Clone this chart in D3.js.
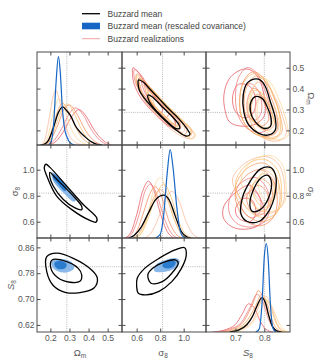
<!DOCTYPE html>
<html>
<head>
<meta charset="utf-8">
<script src="https://cdn.jsdelivr.net/npm/d3@7"></script>
<style>
  body { margin: 0; background: #fff; }
  svg { display: block; }
  text { font-family: "Liberation Sans", Arial, sans-serif; }
</style>
</head>
<body>
<svg id="chart" width="323" height="364"></svg>
<script>
// parameters: Omega_m, sigma_8, S_8
const domains = [[0.13, 0.575], [0.475, 1.19], [0.598, 0.889]];
const fiducial = [0.286, 0.82, 0.8];
const xTickVals = [[0.2, 0.3, 0.4, 0.5], [0.6, 0.8, 1.0], [0.7, 0.8]];
const yTickVals = [[0.2, 0.3, 0.4, 0.5], [0.6, 0.8, 1.0], [0.62, 0.70, 0.78, 0.86]];
const yTickFmt = [".1f", ".1f", ".2f"];

const realColors = ["#e3434b", "#ec6a6c", "#f07b4a", "#f5974e", "#f8b08e", "#f9b95a", "#fcd38c"];

// 1D posteriors (relative height)
const meanOm = [[0.15,0],[0.17,0.01],[0.19,0.05],[0.215,0.18],[0.24,0.34],[0.265,0.41],[0.285,0.37],[0.31,0.3],[0.33,0.21],[0.355,0.14],[0.38,0.09],[0.41,0.04],[0.44,0.01],[0.47,0]];
const blueOm = [[0.19,0],[0.205,0.04],[0.218,0.25],[0.23,0.68],[0.242,0.95],[0.252,0.78],[0.262,0.42],[0.274,0.18],[0.288,0.08],[0.305,0.02],[0.33,0]];
const realOm = [
  [[0.19,0],[0.23,0.04],[0.27,0.15],[0.31,0.3],[0.35,0.38],[0.39,0.3],[0.43,0.16],[0.47,0.06],[0.52,0]],
  [[0.18,0],[0.22,0.05],[0.26,0.18],[0.3,0.34],[0.33,0.4],[0.37,0.33],[0.41,0.18],[0.46,0.05],[0.5,0]],
  [[0.17,0],[0.2,0.05],[0.24,0.22],[0.27,0.38],[0.3,0.43],[0.34,0.33],[0.38,0.17],[0.42,0.06],[0.47,0]],
  [[0.16,0],[0.19,0.06],[0.22,0.25],[0.245,0.4],[0.265,0.45],[0.29,0.38],[0.33,0.2],[0.37,0.07],[0.43,0]],
  [[0.15,0],[0.17,0.05],[0.195,0.3],[0.215,0.53],[0.228,0.59],[0.245,0.5],[0.27,0.28],[0.3,0.1],[0.35,0.01],[0.38,0]],
  [[0.17,0],[0.2,0.06],[0.23,0.22],[0.26,0.38],[0.29,0.44],[0.32,0.36],[0.36,0.18],[0.4,0.06],[0.45,0]],
  [[0.15,0],[0.18,0.05],[0.21,0.3],[0.23,0.45],[0.245,0.5],[0.27,0.42],[0.3,0.22],[0.34,0.07],[0.4,0]]
];

const meanSig = [[0.53,0],[0.58,0.03],[0.64,0.12],[0.7,0.27],[0.76,0.41],[0.83,0.46],[0.88,0.4],[0.93,0.23],[0.98,0.07],[1.03,0.01],[1.06,0]];
const blueSig = [[0.76,0],[0.8,0.04],[0.83,0.25],[0.86,0.7],[0.885,0.95],[0.91,0.75],[0.94,0.35],[0.97,0.08],[1.0,0.01],[1.03,0]];
const realSig = [
  [[0.5,0],[0.55,0.06],[0.6,0.25],[0.65,0.5],[0.7,0.61],[0.75,0.5],[0.8,0.27],[0.86,0.07],[0.92,0]],
  [[0.51,0],[0.56,0.05],[0.62,0.25],[0.67,0.5],[0.72,0.58],[0.77,0.47],[0.83,0.23],[0.89,0.06],[0.95,0]],
  [[0.54,0],[0.6,0.07],[0.66,0.28],[0.71,0.47],[0.76,0.55],[0.81,0.45],[0.87,0.2],[0.93,0.05],[0.99,0]],
  [[0.56,0],[0.62,0.05],[0.68,0.2],[0.74,0.42],[0.8,0.52],[0.86,0.42],[0.92,0.2],[0.98,0.05],[1.04,0]],
  [[0.66,0],[0.72,0.05],[0.78,0.2],[0.84,0.41],[0.9,0.5],[0.96,0.4],[1.02,0.18],[1.08,0.04],[1.14,0]],
  [[0.58,0],[0.64,0.05],[0.7,0.22],[0.77,0.47],[0.83,0.58],[0.89,0.45],[0.95,0.2],[1.01,0.05],[1.08,0]],
  [[0.58,0],[0.64,0.06],[0.7,0.28],[0.75,0.55],[0.8,0.65],[0.85,0.52],[0.91,0.24],[0.97,0.06],[1.04,0]]
];

const meanS8 = [[0.68,0],[0.71,0.02],[0.74,0.08],[0.76,0.17],[0.775,0.28],[0.792,0.365],[0.805,0.3],[0.815,0.18],[0.828,0.06],[0.845,0.01],[0.86,0]];
const blueS8 = [[0.77,0],[0.782,0.03],[0.792,0.3],[0.8,0.8],[0.807,0.94],[0.814,0.75],[0.821,0.3],[0.83,0.04],[0.84,0]];
const realS8 = [
  [[0.62,0],[0.66,0.02],[0.7,0.08],[0.725,0.2],[0.745,0.3],[0.765,0.26],[0.785,0.12],[0.805,0.03],[0.83,0]],
  [[0.64,0],[0.68,0.03],[0.72,0.1],[0.75,0.26],[0.775,0.4],[0.795,0.32],[0.815,0.13],[0.835,0.03],[0.855,0]],
  [[0.65,0],[0.69,0.03],[0.73,0.12],[0.76,0.3],[0.78,0.44],[0.8,0.33],[0.82,0.12],[0.84,0.02],[0.86,0]],
  [[0.66,0],[0.7,0.03],[0.74,0.12],[0.77,0.28],[0.79,0.4],[0.81,0.3],[0.83,0.1],[0.85,0.02],[0.87,0]],
  [[0.68,0],[0.72,0.03],[0.76,0.12],[0.785,0.3],[0.805,0.38],[0.825,0.27],[0.845,0.08],[0.865,0.01],[0.88,0]],
  [[0.67,0],[0.71,0.03],[0.75,0.13],[0.78,0.29],[0.8,0.36],[0.82,0.28],[0.84,0.1],[0.86,0.02],[0.88,0]],
  [[0.68,0],[0.72,0.02],[0.76,0.1],[0.79,0.25],[0.81,0.33],[0.83,0.25],[0.85,0.1],[0.87,0.02],[0.89,0]]
];

// upper triangle: realizations + mean (outer, inner contours)
const meanSigOm = [
  [[0.616,0.441],[0.659,0.43],[0.702,0.404],[0.788,0.353],[0.874,0.302],[0.961,0.254],[1.025,0.21],[1.053,0.181],[1.019,0.173],[0.947,0.197],[0.846,0.245],[0.745,0.302],[0.667,0.353],[0.622,0.393]],
  [[0.697,0.369],[0.731,0.361],[0.817,0.313],[0.904,0.265],[0.961,0.226],[0.967,0.21],[0.932,0.21],[0.861,0.241],[0.774,0.289],[0.708,0.337]]
];
const realSigOm = [
  [[[0.57,0.5],[0.61,0.48],[0.68,0.42],[0.77,0.35],[0.86,0.29],[0.92,0.25],[0.93,0.22],[0.88,0.22],[0.79,0.26],[0.7,0.31],[0.62,0.37],[0.57,0.44]],
   [[0.62,0.45],[0.68,0.41],[0.76,0.35],[0.82,0.3],[0.8,0.28],[0.72,0.33],[0.64,0.39]]],
  [[[0.58,0.49],[0.63,0.47],[0.7,0.41],[0.8,0.34],[0.9,0.28],[0.97,0.23],[0.96,0.2],[0.9,0.21],[0.8,0.26],[0.7,0.32],[0.62,0.39],[0.58,0.45]],
   [[0.64,0.44],[0.7,0.4],[0.8,0.33],[0.87,0.28],[0.85,0.26],[0.76,0.31],[0.67,0.38]]],
  [[[0.6,0.47],[0.66,0.44],[0.74,0.39],[0.84,0.32],[0.95,0.26],[1.03,0.21],[1.01,0.18],[0.94,0.2],[0.84,0.25],[0.73,0.31],[0.64,0.38],[0.6,0.43]],
   [[0.67,0.42],[0.74,0.38],[0.84,0.31],[0.93,0.25],[0.91,0.23],[0.81,0.28],[0.7,0.35]]],
  [[[0.62,0.45],[0.68,0.42],[0.77,0.37],[0.87,0.31],[0.98,0.25],[1.07,0.2],[1.05,0.17],[0.97,0.19],[0.86,0.24],[0.75,0.3],[0.66,0.36],[0.62,0.41]],
   [[0.7,0.39],[0.77,0.36],[0.87,0.3],[0.97,0.24],[0.95,0.22],[0.84,0.27],[0.73,0.33]]],
  [[[0.64,0.42],[0.7,0.39],[0.8,0.34],[0.92,0.28],[1.03,0.22],[1.09,0.18],[1.07,0.16],[0.99,0.17],[0.88,0.21],[0.77,0.27],[0.68,0.33],[0.64,0.38]],
   [[0.74,0.36],[0.82,0.32],[0.92,0.27],[1.01,0.21],[0.99,0.19],[0.88,0.24],[0.77,0.3]]],
  [[[0.6,0.46],[0.67,0.43],[0.76,0.38],[0.86,0.32],[0.97,0.26],[1.06,0.2],[1.04,0.17],[0.96,0.19],[0.85,0.24],[0.74,0.3],[0.65,0.37],[0.6,0.42]],
   [[0.69,0.4],[0.77,0.36],[0.87,0.3],[0.96,0.25],[0.94,0.22],[0.84,0.27],[0.72,0.34]]],
  [[[0.63,0.44],[0.7,0.41],[0.8,0.35],[0.91,0.29],[1.02,0.23],[1.1,0.18],[1.08,0.16],[1.0,0.18],[0.89,0.22],[0.78,0.28],[0.68,0.35],[0.63,0.4]],
   [[0.72,0.38],[0.8,0.34],[0.9,0.28],[0.99,0.23],[0.97,0.21],[0.87,0.25],[0.75,0.32]]]
];

const meanS8Om = [
  [[0.769,0.446],[0.74,0.425],[0.727,0.369],[0.729,0.289],[0.746,0.226],[0.781,0.186],[0.815,0.178],[0.838,0.202],[0.838,0.258],[0.821,0.337],[0.804,0.409],[0.786,0.441]],
  [[0.769,0.361],[0.754,0.337],[0.752,0.289],[0.769,0.241],[0.798,0.21],[0.821,0.218],[0.824,0.25],[0.81,0.313],[0.792,0.353]]
];
const realS8Om = [
  [[[0.72,0.49],[0.68,0.45],[0.66,0.37],[0.665,0.29],[0.68,0.24],[0.72,0.22],[0.77,0.23],[0.8,0.27],[0.8,0.36],[0.78,0.45],[0.75,0.49]],
   [[0.71,0.42],[0.69,0.36],[0.7,0.29],[0.73,0.26],[0.76,0.28],[0.77,0.35],[0.75,0.41]]],
  [[[0.74,0.5],[0.71,0.45],[0.7,0.36],[0.71,0.27],[0.74,0.21],[0.79,0.19],[0.82,0.22],[0.82,0.3],[0.8,0.4],[0.77,0.48]],
   [[0.74,0.42],[0.725,0.35],[0.735,0.28],[0.77,0.25],[0.79,0.29],[0.785,0.37],[0.76,0.42]]],
  [[[0.76,0.48],[0.73,0.44],[0.715,0.36],[0.72,0.27],[0.75,0.2],[0.8,0.17],[0.84,0.19],[0.845,0.26],[0.82,0.37],[0.79,0.46]],
   [[0.76,0.4],[0.74,0.33],[0.75,0.26],[0.79,0.22],[0.815,0.25],[0.8,0.33],[0.78,0.39]]],
  [[[0.77,0.46],[0.74,0.41],[0.73,0.33],[0.74,0.25],[0.78,0.18],[0.83,0.16],[0.86,0.19],[0.855,0.27],[0.83,0.37],[0.8,0.44]],
   [[0.77,0.37],[0.755,0.3],[0.77,0.23],[0.81,0.2],[0.835,0.23],[0.82,0.3],[0.795,0.36]]],
  [[[0.78,0.43],[0.75,0.38],[0.74,0.3],[0.76,0.22],[0.8,0.16],[0.85,0.15],[0.875,0.18],[0.865,0.26],[0.84,0.35],[0.81,0.42]],
   [[0.78,0.35],[0.77,0.28],[0.79,0.21],[0.83,0.18],[0.85,0.21],[0.835,0.28],[0.805,0.34]]],
  [[[0.76,0.47],[0.725,0.42],[0.715,0.33],[0.725,0.25],[0.76,0.19],[0.81,0.165],[0.85,0.18],[0.855,0.25],[0.835,0.35],[0.8,0.45]],
   [[0.765,0.39],[0.75,0.31],[0.765,0.24],[0.805,0.21],[0.83,0.24],[0.815,0.32],[0.79,0.38]]],
  [[[0.79,0.45],[0.76,0.4],[0.745,0.32],[0.755,0.24],[0.79,0.17],[0.84,0.155],[0.88,0.17],[0.875,0.25],[0.85,0.35],[0.82,0.43]],
   [[0.79,0.37],[0.775,0.3],[0.785,0.23],[0.82,0.195],[0.85,0.22],[0.84,0.29],[0.81,0.35]]]
];

const meanS8Sig = [
  [[0.821,1.018],[0.838,0.966],[0.838,0.823],[0.815,0.68],[0.781,0.602],[0.741,0.602],[0.72,0.654],[0.724,0.784],[0.752,0.914],[0.786,1.005]],
  [[0.81,0.958],[0.824,0.914],[0.815,0.784],[0.786,0.693],[0.758,0.68],[0.75,0.732],[0.763,0.849],[0.79,0.94]]
];
const realS8Sig = [
  [[[0.66,0.72],[0.66,0.62],[0.7,0.55],[0.77,0.56],[0.8,0.64],[0.79,0.76],[0.75,0.88],[0.71,0.84]],
   [[0.7,0.7],[0.71,0.63],[0.75,0.6],[0.77,0.66],[0.76,0.76],[0.73,0.78]]],
  [[[0.68,0.78],[0.68,0.66],[0.71,0.58],[0.76,0.56],[0.8,0.6],[0.82,0.7],[0.81,0.85],[0.77,0.94],[0.72,0.9]],
   [[0.72,0.76],[0.73,0.67],[0.76,0.63],[0.785,0.68],[0.785,0.78],[0.76,0.84]]],
  [[[0.7,0.82],[0.71,0.7],[0.74,0.6],[0.79,0.57],[0.83,0.63],[0.845,0.76],[0.83,0.92],[0.79,1.0],[0.74,0.96]],
   [[0.74,0.8],[0.75,0.7],[0.78,0.65],[0.81,0.7],[0.81,0.82],[0.78,0.88]]],
  [[[0.7,0.87],[0.71,0.75],[0.745,0.64],[0.795,0.6],[0.84,0.66],[0.855,0.8],[0.84,0.96],[0.8,1.05],[0.74,1.01]],
   [[0.75,0.85],[0.76,0.74],[0.79,0.68],[0.82,0.73],[0.825,0.86],[0.79,0.93]]],
  [[[0.69,0.93],[0.71,0.8],[0.75,0.69],[0.81,0.66],[0.86,0.72],[0.87,0.88],[0.85,1.04],[0.81,1.1],[0.74,1.06]],
   [[0.75,0.92],[0.77,0.8],[0.8,0.74],[0.83,0.8],[0.835,0.93],[0.8,1.0]]],
  [[[0.7,0.9],[0.72,0.77],[0.76,0.66],[0.81,0.63],[0.85,0.69],[0.86,0.84],[0.845,1.0],[0.8,1.08],[0.74,1.04]],
   [[0.76,0.88],[0.77,0.77],[0.8,0.71],[0.83,0.77],[0.83,0.9],[0.8,0.97]]],
  [[[0.72,0.93],[0.74,0.8],[0.78,0.7],[0.83,0.68],[0.87,0.75],[0.875,0.9],[0.86,1.05],[0.82,1.11],[0.76,1.07]],
   [[0.78,0.92],[0.79,0.8],[0.82,0.75],[0.845,0.81],[0.845,0.94],[0.81,1.01]]]
];

// lower triangle: mean (outer, inner) + rescaled covariance (outer, inner)
const meanOmSig = [
  [[0.177,1.042],[0.198,1.018],[0.285,0.875],[0.372,0.732],[0.443,0.629],[0.439,0.597],[0.407,0.61],[0.312,0.693],[0.233,0.797],[0.181,0.953],[0.168,1.018]],
  [[0.198,0.979],[0.224,0.94],[0.312,0.81],[0.364,0.719],[0.364,0.693],[0.329,0.706],[0.268,0.771],[0.215,0.875],[0.198,0.94]]
];
const blueOmSig = [
  [[0.207,0.979],[0.233,0.958],[0.285,0.875],[0.334,0.771],[0.324,0.753],[0.268,0.823],[0.215,0.914]],
  [[0.215,0.966],[0.242,0.94],[0.285,0.862],[0.277,0.836],[0.236,0.896],[0.215,0.932]]
];
const meanOmS8 = [
  [[0.181,0.831],[0.233,0.842],[0.32,0.826],[0.416,0.79],[0.446,0.765],[0.428,0.734],[0.355,0.72],[0.277,0.721],[0.215,0.742],[0.181,0.785]],
  [[0.209,0.821],[0.285,0.816],[0.346,0.795],[0.364,0.775],[0.355,0.755],[0.303,0.752],[0.241,0.765],[0.203,0.795]]
];
const blueOmS8 = [
  [[0.207,0.816],[0.259,0.824],[0.312,0.814],[0.324,0.795],[0.285,0.782],[0.233,0.788],[0.209,0.8]],
  [[0.224,0.814],[0.259,0.818],[0.285,0.808],[0.277,0.795],[0.241,0.793],[0.222,0.804]]
];
const meanSigS8 = [
  [[0.6,0.739],[0.605,0.765],[0.668,0.795],[0.79,0.826],[0.927,0.852],[1.008,0.859],[1.022,0.836],[0.981,0.795],[0.899,0.754],[0.79,0.724],[0.682,0.713],[0.614,0.718]],
  [[0.695,0.775],[0.736,0.795],[0.845,0.816],[0.927,0.821],[0.954,0.811],[0.899,0.78],[0.818,0.754],[0.722,0.749]]
];
const blueSigS8 = [
  [[0.763,0.806],[0.845,0.821],[0.941,0.826],[0.967,0.816],[0.927,0.795],[0.818,0.783],[0.75,0.787]],
  [[0.831,0.811],[0.899,0.821],[0.932,0.814],[0.913,0.8],[0.845,0.795],[0.818,0.803]]
];

const diag = [
  { mean: meanOm, blue: blueOm, real: realOm },
  { mean: meanSig, blue: blueSig, real: realSig },
  { mean: meanS8, blue: blueS8, real: realS8 },
];
const upper = {
  "0-1": { mean: meanSigOm, real: realSigOm },
  "0-2": { mean: meanS8Om, real: realS8Om },
  "1-2": { mean: meanS8Sig, real: realS8Sig },
};
const lower = {
  "1-0": { mean: meanOmSig, blue: blueOmSig },
  "2-0": { mean: meanOmS8, blue: blueOmS8 },
  "2-1": { mean: meanSigS8, blue: blueSigS8 },
};

const blue = "#1767c6";
const blueFill = ["#8ab8e8", "#2b7bcf"];
const axisColor = "#4a4a4a";
const textColor = "#555";

const svg = d3.select("#chart");
const defs = svg.append("defs");

const colX = [[37, 122], [122, 206], [206, 290]];
const rowY = [[52, 145], [145, 238], [238, 332]];
const xs = domains.map((d, i) => d3.scaleLinear().domain(d).range(colX[i]));
const ys = domains.map((d, i) => d3.scaleLinear().domain(d).range([rowY[i][1], rowY[i][0]]));

function drawPanel(r, c) {
  const [x0, x1] = colX[c];
  const [y0, y1] = rowY[r];
  const x = xs[c];
  const y = ys[r];
  const g = svg.append("g");

  defs.append("clipPath")
    .attr("id", `clip-${r}-${c}`)
    .append("rect")
    .attr("x", x0).attr("y", y0)
    .attr("width", x1 - x0).attr("height", y1 - y0);

  const body = g.append("g").attr("clip-path", `url(#clip-${r}-${c})`);

  const fid = body.append("g")
    .attr("stroke", "#9a9a9a")
    .attr("stroke-width", 0.7)
    .attr("stroke-dasharray", "1,1.2");
  fid.append("line")
    .attr("x1", x(fiducial[c])).attr("x2", x(fiducial[c]))
    .attr("y1", y0).attr("y2", y1);
  if (r !== c) {
    fid.append("line")
      .attr("x1", x0).attr("x2", x1)
      .attr("y1", y(fiducial[r])).attr("y2", y(fiducial[r]));
  }

  if (r === c) {
    const yd = d3.scaleLinear().domain([0, 1]).range([y1, y0]);
    const line = d3.line().x(d => x(d[0])).y(d => yd(d[1])).curve(d3.curveMonotoneX);
    const dd = diag[c];
    dd.real.forEach((pts, i) => {
      body.append("path").attr("d", line(pts))
        .attr("fill", "none").attr("stroke", realColors[i])
        .attr("stroke-width", 0.8).attr("opacity", 0.85);
    });
    body.append("path").attr("d", line(dd.mean))
      .attr("fill", "none").attr("stroke", "#000").attr("stroke-width", 1.3);
    body.append("path").attr("d", line(dd.blue))
      .attr("fill", "none").attr("stroke", blue).attr("stroke-width", 1.2);
  } else {
    const line = d3.line().x(d => x(d[0])).y(d => y(d[1]))
      .curve(d3.curveCatmullRomClosed.alpha(0.5));
    if (r < c) {
      const panel = upper[`${r}-${c}`];
      panel.real.forEach((levels, i) => {
        levels.forEach(pts => {
          body.append("path").attr("d", line(pts))
            .attr("fill", "none").attr("stroke", realColors[i])
            .attr("stroke-width", 0.8).attr("opacity", 0.85);
        });
      });
      panel.mean.forEach(pts => {
        body.append("path").attr("d", line(pts))
          .attr("fill", "none").attr("stroke", "#000").attr("stroke-width", 1.3);
      });
    } else {
      const panel = lower[`${r}-${c}`];
      panel.blue.forEach((pts, i) => {
        body.append("path").attr("d", line(pts)).attr("fill", blueFill[i]);
      });
      panel.mean.forEach(pts => {
        body.append("path").attr("d", line(pts))
          .attr("fill", "none").attr("stroke", "#000").attr("stroke-width", 1.3);
      });
    }
  }

  const tick = 3.5;
  const styleAxis = sel => {
    sel.select(".domain").remove();
    sel.attr("font-size", 8.5)
      .attr("font-family", "'Liberation Sans', Arial, sans-serif")
      .attr("color", axisColor);
    sel.selectAll("text").attr("fill", textColor);
  };

  g.append("g").attr("transform", `translate(0,${y1})`)
    .call(d3.axisBottom(x).tickValues(xTickVals[c]).tickSize(-tick).tickPadding(3)
      .tickFormat(r === 2 ? d3.format(".1f") : ""))
    .call(styleAxis);
  g.append("g").attr("transform", `translate(0,${y0})`)
    .call(d3.axisTop(x).tickValues(xTickVals[c]).tickSize(-tick).tickFormat(""))
    .call(styleAxis);
  g.append("g").attr("transform", `translate(${x0},0)`)
    .call(d3.axisLeft(y).tickValues(yTickVals[r]).tickSize(-tick).tickPadding(2.5)
      .tickFormat(c === 0 && r > 0 ? d3.format(yTickFmt[r]) : ""))
    .call(styleAxis);
  g.append("g").attr("transform", `translate(${x1},0)`)
    .call(d3.axisRight(y).tickValues(yTickVals[r]).tickSize(-tick).tickPadding(2.5)
      .tickFormat(c === 2 && r < 2 ? d3.format(yTickFmt[r]) : ""))
    .call(styleAxis);

  g.append("rect")
    .attr("x", x0).attr("y", y0)
    .attr("width", x1 - x0).attr("height", y1 - y0)
    .attr("fill", "none").attr("stroke", axisColor).attr("stroke-width", 1);
}

for (let r = 0; r < 3; r++) {
  for (let c = 0; c < 3; c++) drawPanel(r, c);
}

// axis labels
const symbols = [["Ω", "m", false], ["σ", "8", false], ["S", "8", true]];
const addLabel = (i, transform) => {
  const t = svg.append("text")
    .attr("transform", transform)
    .attr("text-anchor", "middle")
    .attr("font-size", 9.5)
    .attr("fill", textColor);
  t.append("tspan").text(symbols[i][0]).attr("font-style", symbols[i][2] ? "italic" : null);
  t.append("tspan").text(symbols[i][1]).attr("font-size", 6.5).attr("dy", 2);
};
addLabel(0, "translate(80,356)");
addLabel(1, "translate(163,356)");
addLabel(2, "translate(248,356)");
addLabel(1, "translate(18,191.5) rotate(-90)");
addLabel(2, "translate(14,285) rotate(-90)");
addLabel(0, "translate(308,98.5) rotate(90)");
addLabel(1, "translate(308,191.5) rotate(90)");

// legend
const legendItems = ["Buzzard mean", "Buzzard mean (rescaled covariance)", "Buzzard realizations"];
const legendY = [13.7, 26, 38.7];
const legend = svg.append("g");
legend.append("line").attr("x1", 82).attr("x2", 100).attr("y1", legendY[0]).attr("y2", legendY[0])
  .attr("stroke", "#000").attr("stroke-width", 1.3);
legend.append("rect").attr("x", 82).attr("y", legendY[1] - 3.3).attr("width", 18).attr("height", 6.6)
  .attr("fill", "#1666c6");
legend.append("line").attr("x1", 82).attr("x2", 100).attr("y1", legendY[2]).attr("y2", legendY[2])
  .attr("stroke", "#f0979c").attr("stroke-width", 0.9);
legend.selectAll("text").data(legendItems).enter().append("text")
  .attr("x", 107.5)
  .attr("y", (d, i) => legendY[i] + 3)
  .attr("font-size", 8.5)
  .attr("fill", "#444")
  .text(d => d);
</script>
</body>
</html>
